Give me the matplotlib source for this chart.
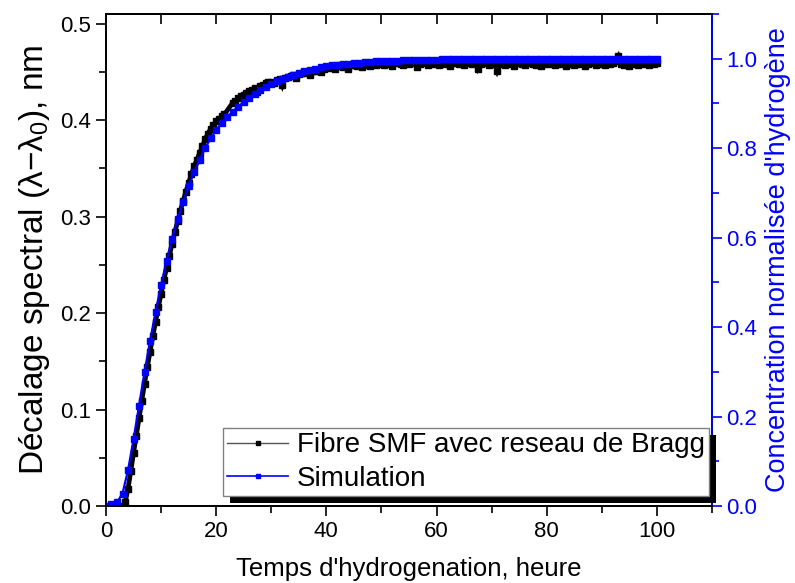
import numpy as np
import matplotlib
matplotlib.use('Agg')
import matplotlib.pyplot as plt
from matplotlib.patches import Rectangle
from matplotlib.lines import Line2D
from matplotlib.ticker import MultipleLocator

plt.rcParams['font.family'] = ['Liberation Sans', 'DejaVu Sans']
plt.rcParams['mathtext.fontset'] = 'custom'
plt.rcParams['mathtext.rm'] = 'Liberation Sans'
plt.rcParams['mathtext.it'] = 'Liberation Sans:italic'

# Mesure : fibre SMF avec reseau de Bragg (decalage spectral, nm)
t_mes = np.concatenate([np.arange(3, 22, 0.5), np.arange(23, 100.5, 0.5)])
dl_mes = [
    0.000, 0.004, 0.018, 0.036, 0.055, 0.073, 0.091, 0.109, 0.127, 0.144,
    0.160, 0.176, 0.191, 0.206, 0.220, 0.234, 0.247, 0.259, 0.272, 0.284,
    0.295, 0.306, 0.316, 0.326, 0.335, 0.344, 0.352, 0.359, 0.366, 0.373,
    0.380, 0.386, 0.391, 0.395, 0.399, 0.401, 0.404, 0.406,
    # 23 - 39.5 h
    0.418, 0.420, 0.423, 0.425, 0.426, 0.428, 0.430, 0.431, 0.433, 0.429,
    0.435, 0.436, 0.438, 0.439, 0.440, 0.438, 0.442, 0.443, 0.436, 0.444,
    0.445, 0.446, 0.447, 0.444, 0.448, 0.449, 0.449, 0.450, 0.447, 0.451,
    0.451, 0.452, 0.450, 0.453,
    # 40 - 100 h
    0.455, 0.454, 0.456, 0.453, 0.456, 0.457, 0.455, 0.456, 0.453, 0.457,
    0.457, 0.456, 0.458, 0.455, 0.457, 0.458, 0.456, 0.458, 0.457, 0.459,
    0.458, 0.457, 0.459, 0.458, 0.456, 0.459, 0.460, 0.458, 0.457, 0.459,
    0.458, 0.460, 0.459, 0.455, 0.458, 0.459, 0.460, 0.457, 0.459, 0.458,
    0.459, 0.457, 0.460, 0.458, 0.459, 0.456, 0.460, 0.459, 0.458, 0.460,
    0.457, 0.459, 0.461, 0.458, 0.459, 0.453, 0.458, 0.460, 0.459, 0.457,
    0.458, 0.459, 0.451, 0.458, 0.460, 0.457, 0.459, 0.458, 0.456, 0.459,
    0.460, 0.458, 0.457, 0.459, 0.461, 0.458, 0.457, 0.459, 0.456, 0.458,
    0.459, 0.458, 0.460, 0.457, 0.459, 0.458, 0.461, 0.456, 0.458, 0.459,
    0.457, 0.460, 0.458, 0.459, 0.456, 0.458, 0.460, 0.459, 0.457, 0.458,
    0.459, 0.457, 0.460, 0.458, 0.459, 0.461, 0.466, 0.458, 0.457, 0.459,
    0.456, 0.458, 0.460, 0.457, 0.459, 0.458, 0.460, 0.457, 0.459, 0.458,
    0.459,
]

# Simulation : concentration normalisee d'hydrogene
t_sim = np.arange(0, 101, 1)
c_sim = [
    0.000, 0.004, 0.008, 0.028, 0.080, 0.149, 0.224, 0.300, 0.369, 0.434,
    0.494, 0.548, 0.598, 0.641, 0.680, 0.716, 0.746, 0.774, 0.800, 0.822,
    0.841, 0.856, 0.869, 0.882, 0.893, 0.903, 0.912, 0.921, 0.929, 0.937,
    0.944, 0.950, 0.955, 0.960, 0.964, 0.968, 0.972, 0.975, 0.978, 0.981,
    0.983, 0.985, 0.987, 0.988, 0.989, 0.990, 0.991, 0.992, 0.993, 0.994,
    0.995, 0.995, 0.996, 0.996, 0.997, 0.997, 0.997, 0.998, 0.998, 0.998,
    0.998, 0.999, 0.999, 0.999, 0.999, 0.999, 0.999, 0.999, 0.999, 0.999,
    0.999, 1.000, 1.000, 1.000, 1.000, 1.000, 1.000, 1.000, 1.000, 1.000,
    1.000, 1.000, 1.000, 1.000, 1.000, 1.000, 1.000, 1.000, 1.000, 1.000,
    1.000, 1.000, 1.000, 1.000, 1.000, 1.000, 1.000, 1.000, 1.000, 1.000,
    1.000,
]

fig, ax = plt.subplots(figsize=(7.95, 5.83), dpi=100)
fig.subplots_adjust(left=0.1333, right=0.8956, bottom=0.132, top=0.976)
ax2 = ax.twinx()

# bande noire epaisse (points de mesure tres denses)
ax.plot(t_mes, dl_mes, color='black', lw=3.4, marker='s', ms=3.8,
        mfc='black', mec='black', solid_joinstyle='miter')
ax2.plot(t_sim, c_sim, color='#0000ff', lw=1.6, marker='s', ms=4.3,
         mfc='#0000ff', mec='#0000ff')

h1 = Line2D([], [], color='#555555', lw=1.0, marker='s', ms=3.2,
            mfc='black', mec='black', label='Fibre SMF avec reseau de Bragg')
h2 = Line2D([], [], color='#0000ff', lw=1.2, marker='s', ms=3.4,
            mfc='#0000ff', mec='#0000ff', label='Simulation')

ax.set_xlim(0, 110)
ax.set_ylim(0, 0.51)
ax2.set_ylim(0, 1.1)

ax.xaxis.set_major_locator(MultipleLocator(20))
ax.xaxis.set_minor_locator(MultipleLocator(10))
ax.yaxis.set_major_locator(MultipleLocator(0.1))
ax.yaxis.set_minor_locator(MultipleLocator(0.05))
ax2.yaxis.set_major_locator(MultipleLocator(0.2))
ax2.yaxis.set_minor_locator(MultipleLocator(0.1))
ax2.set_yticks(np.arange(0, 1.01, 0.2))

ax.tick_params(which='both', direction='out', labelsize=16, width=1.2)
ax.tick_params(which='major', length=7)
ax.tick_params(which='minor', length=5)
ax2.tick_params(which='both', direction='out', labelsize=16, width=1.2,
                color='#0000ff', labelcolor='#0000ff')
ax2.tick_params(which='major', length=7)
ax2.tick_params(which='minor', length=5)

top = ax.secondary_xaxis('top')
top.xaxis.set_major_locator(MultipleLocator(10))
top.tick_params(direction='in', length=7, width=1.2, labeltop=False)

for s in ax.spines.values():
    s.set_linewidth(1.3)
for s in ax2.spines.values():
    s.set_linewidth(1.3)
ax2.spines['right'].set_color('#0000ff')
top.spines['top'].set_linewidth(1.3)

ax.set_xlabel("Temps d'hydrogenation, heure", fontsize=18.5, labelpad=11)
ax.set_ylabel(r'Décalage spectral (λ$-$λ$_\mathrm{0}$), nm', fontsize=24, labelpad=6)
ax2.set_ylabel("Concentration normalisée d'hydrogène", fontsize=19.5,
               color='#0000ff', labelpad=5)

leg = ax2.legend(handles=[h1, h2], loc='lower right', bbox_to_anchor=(0.995, 0.02),
                 borderaxespad=0, fontsize=20, fancybox=False, framealpha=1,
                 edgecolor='#808080', handlelength=2.2, handletextpad=0.3,
                 borderpad=0.15, labelspacing=0.28)
leg.get_frame().set_linewidth(1.0)
leg.set_zorder(10)

# ombre noire du cadre de legende (style Origin)
fig.canvas.draw()
bb = leg.get_window_extent()
ax2.add_patch(Rectangle((bb.x0 + 7, bb.y0 - 7), bb.width, bb.height,
                        transform=None, facecolor='black', edgecolor='none',
                        zorder=9, clip_on=False))

fig.savefig('out.png', dpi=100)
